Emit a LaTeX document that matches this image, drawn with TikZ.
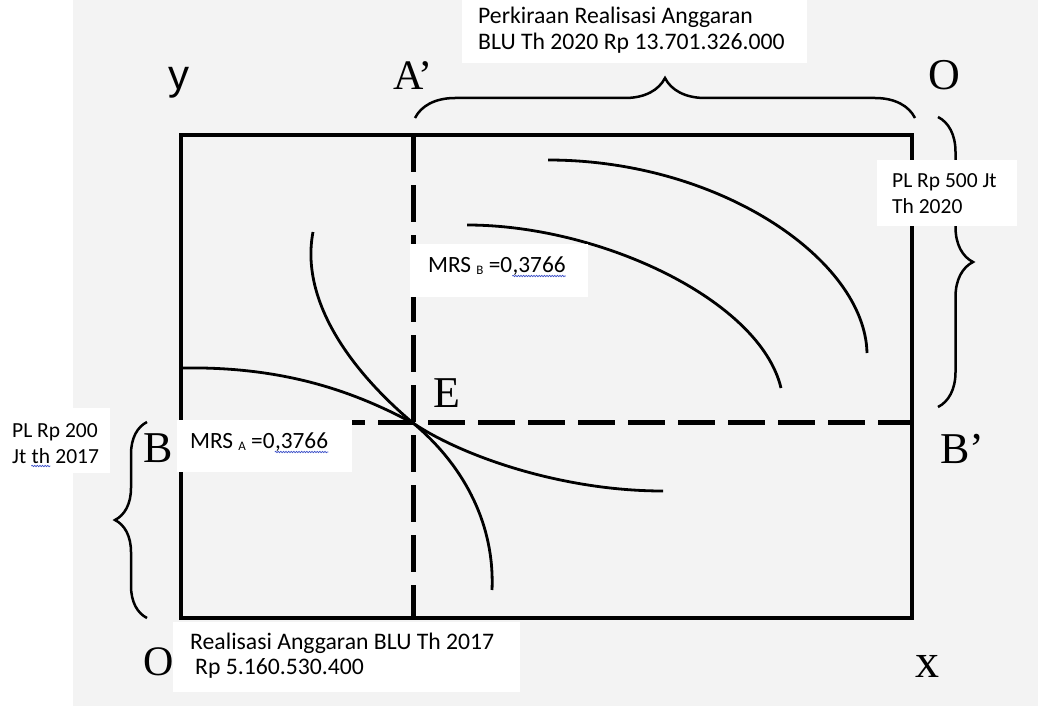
\documentclass[tikz,border=0pt]{standalone}
\usepackage{fontspec}
\setmainfont{Liberation Serif}
\newfontfamily\lblfont{Carlito}
\newfontfamily\sanslab{Liberation Sans}
\usetikzlibrary{decorations.pathreplacing,decorations.pathmorphing}
\definecolor{bggray}{RGB}{243,243,243}
\definecolor{spellblue}{RGB}{60,80,200}
\begin{document}
\begin{tikzpicture}[x=1pt,y=-1pt,
  frame/.style={line width=4.5pt},
  dashline/.style={line width=5pt, dash pattern=on 37pt off 13pt},
  curve/.style={line width=2.8pt},
  bracepath/.style={line width=2.5pt, decorate, decoration={brace, amplitude=#1}},
  letter/.style={inner sep=0pt, anchor=base west, font=\fontsize{44}{44}\selectfont},
  lbl/.style={inner sep=0pt, anchor=base west, font=\lblfont\fontsize{23.3}{26}\selectfont},
  lblbig/.style={lbl, font=\lblfont\fontsize{23.7}{26}\selectfont},
  lblsmall/.style={lbl, font=\lblfont\fontsize{21.5}{26}\selectfont},
  wavy/.style={spellblue, line width=0.7pt, decorate, decoration={snake, amplitude=0.7pt, segment length=2.6pt}},
]
\useasboundingbox (0,0) rectangle (1038,706);
\fill[white] (0,0) rectangle (1038,706);
\fill[bggray] (73,0) rectangle (1038,706);

% frame and equilibrium lines
\coordinate (c1) at (181,135);
\coordinate (c2) at (912,618);
\coordinate (Ept) at (413,423);
\coordinate (vt) at (413,135);
\coordinate (vb) at (413,618);
\coordinate (hl) at (181,422);
\coordinate (hr) at (912,422);
\draw[frame] (c1) rectangle (c2);
\draw[dashline] (vt) -- (vb);
\draw[dashline, dash phase=3pt] (hl) -- (hr);

% indifference curves
\draw[curve] (181,368) .. controls (290,366) and (360,395) .. (Ept) .. controls (460,455) and (560,491) .. (663,491);
\draw[curve] (313,232) .. controls (300,300) and (350,370) .. (Ept) .. controls (460,462) and (495,520) .. (492,590);
\draw[curve] (467,225) .. controls (600,225) and (760,300) .. (781,388);
\draw[curve] (548,160) .. controls (720,160) and (865,260) .. (867,353);

% braces
\coordinate (bt1) at (415,118);
\coordinate (bt2) at (915,118);
\coordinate (br1) at (938,117);
\coordinate (br2) at (938,407);
\coordinate (bl1) at (147,618);
\coordinate (bl2) at (147,422);
\draw[bracepath=40pt] (bt1) -- (bt2);
\draw[bracepath=35pt] (br1) -- (br2);
\draw[bracepath=32pt] (bl1) -- (bl2);

% white label boxes
\fill[white] (462,0) rectangle (807,63);
\fill[white] (877,160) rectangle (1017,226);
\fill[white] (410,244) rectangle (588,297);
\fill[white] (177,420) rectangle (352,472);
\fill[white] (173,622) rectangle (520,692);
\fill[white] (0,408) rectangle (110,473);

% labels
\node[lblbig] (t1) at (478,24) {Perkiraan Realisasi Anggaran};
\node[lblbig] (t2) at (478,50) {BLU Th 2020 Rp 13.701.326.000};

\node[lblsmall] (pl5a) at (892,187) {PL Rp 500 Jt};
\node[lblsmall] (pl5b) at (892,213) {Th 2020};

\node[lbl] (mrsb) at (428,272) {MRS \raisebox{-2pt}{\fontsize{13}{13}\selectfont B} =0};
\node[lbl] (mrsbu) at (mrsb.base east) {,3766};
\draw[wavy] ([yshift=-4pt]mrsbu.base west) -- ([yshift=-4pt]mrsbu.base east);

\node[lbl] (mrsa) at (190,448) {MRS \raisebox{-2pt}{\fontsize{13}{13}\selectfont A} =0};
\node[lbl] (mrsau) at (mrsa.base east) {,3766};
\draw[wavy] ([yshift=-4pt]mrsau.base west) -- ([yshift=-4pt]mrsau.base east);

\node[lblbig] (r1) at (190,649) {Realisasi Anggaran BLU Th 2017};
\node[lblbig] (r2) at (195,674) {Rp 5.160.530.400};

\node[lblsmall] (pl2a) at (12,437) {PL Rp 200};
\node[lblsmall] (pl2b) at (12,463) {Jt};
\node[lblsmall] (pl2u) at ([xshift=4.9pt]pl2b.base east) {th};
\node[lblsmall] (pl2c) at ([xshift=4.9pt]pl2u.base east) {2017};
\draw[wavy] ([yshift=-3pt]pl2u.base west) -- ([yshift=-3pt]pl2u.base east);

% point letters
\node[letter, font=\sanslab\fontsize{42}{42}\selectfont] (ylab) at (168,90) {y};
\node[letter, font=\fontsize{42}{42}\selectfont] (Aprime) at (393,90) {A’};
\node[letter] (Otop) at (928,90) {O};
\node[letter] (Elab) at (433,407) {E};
\node[letter] (Blab) at (143,462) {B};
\node[letter] (Bprime) at (940,463) {B’};
\node[letter, font=\fontsize{42}{42}\selectfont] (Obot) at (143,675) {O};
\node[letter, font=\fontsize{48}{48}\selectfont] (xlab) at (915,677) {x};
\end{tikzpicture}
\end{document}
